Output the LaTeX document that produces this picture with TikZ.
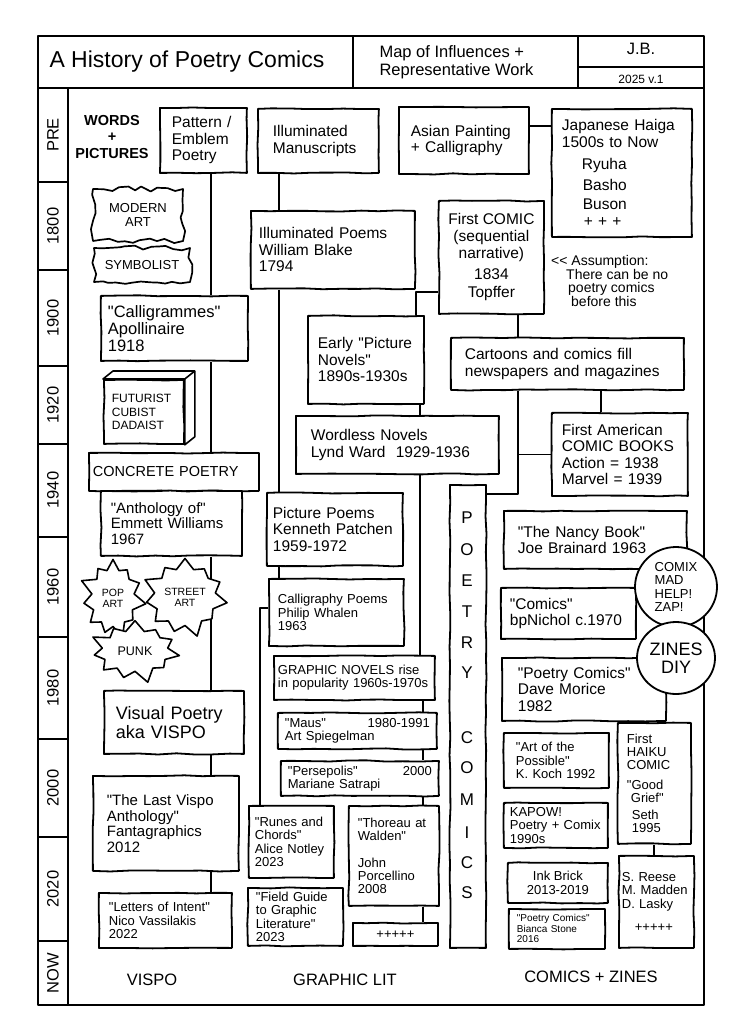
\documentclass[tikz,border=0pt]{standalone}
\usepackage{fontspec}
\setmainfont{Liberation Sans}[Ligatures=TeXOff]
\usetikzlibrary{shapes.geometric, shapes.symbols, decorations.pathmorphing, calc}

\newcommand{\fttl}{\fontsize{23}{26}\selectfont}
\newcommand{\fhead}{\fontsize{16.5}{18}\selectfont}
\newcommand{\fbig}{\fontsize{15.5}{16.5}\selectfont}
\newcommand{\fmed}{\fontsize{15}{15.5}\selectfont}
\newcommand{\fmid}{\fontsize{13}{13.3}\selectfont}
\newcommand{\fsml}{\fontsize{13}{14}\selectfont}
\newcommand{\fpop}{\fontsize{10.5}{11}\selectfont}
\newcommand{\ftny}{\fontsize{10}{10.5}\selectfont}
\newcommand{\fbold}{\fontsize{18}{18.5}\selectfont}
\newcommand{\pushright}{\hskip 0pt plus 1filll\relax}

\begin{document}
\pgfmathsetseed{7}
\begin{tikzpicture}[
        x=1pt, y=-1pt, line join=round,
        card/.style={draw, line width=1.8pt, fill=white, anchor=north west, inner sep=0pt, align=left, font=\fbig,
            decorate, decoration={random steps, segment length=18pt, amplitude=0.6pt}},
        wh/.style n args={3}{minimum width=#1pt, minimum height=#2pt,
            /utils/exec={\pgfmathsetlengthmacro\tw{#1pt-2*#3pt}}, text width=\tw},
        jag/.style={draw, line width=1.7pt, fill=white, align=center, inner sep=0pt, font=\fsml,
            decorate, decoration={random steps, segment length=8pt, amplitude=2.5pt}},
        burst/.style={starburst, draw, line width=1.6pt, fill=white, align=center, font=\fpop,
            inner xsep=4pt, inner ysep=11pt, starburst points=11, starburst point height=14pt},
        bubble/.style={ellipse, draw, line width=1.8pt, fill=white, inner sep=0pt},
        link/.style={line width=1.4pt},
        frame/.style={line width=1.3pt},
        yearlbl/.style={rotate=90, font=\fhead},
        tag/.style={font=\fhead}
    ]
    \useasboundingbox (0,0) rectangle (751,1023);

    % frame and title band
    \draw[frame] (38,36) rectangle (704,88);
    \draw[frame] (353,36) -- (353,88);
    \draw[frame] (578,36) -- (578,88);
    \draw[frame] (578,67) -- (704,67);
    \draw[frame] (38,88) rectangle (704,1005);
    \draw[frame] (68,88) -- (68,1005);
    \foreach \yy in {182,270,366,444,537,637,739,837,941}
        \draw[frame] (38,\yy) -- (68,\yy);
    \foreach \lbl/\yy in {PRE/135,1800/226,1900/318,1920/405,1940/490,1960/587,1980/688,2000/788,2020/889,NOW/973}
        \node[yearlbl] (yr-\lbl) at (53,\yy) {\lbl};

    \node[anchor=west, font=\fttl] (title) at (46,62) {A History of Poetry Comics};
    \node[anchor=west, align=left, font=\fhead] (subtitle) at (376,62) {Map of Influences +\\Representative Work};
    \node[font=\fhead] (author) at (641,49) {J.B.};
    \node[font=\fontsize{12}{12}\selectfont] (version) at (641,79) {2025 v.1};

    % vispo column
    \node[font=\bfseries\fontsize{14.5}{16.5}\selectfont, align=center] (words) at (112,137) {WORDS\\+\\PICTURES};
    \node[card, wh={87}{65}{12}] (pattern) at (159,107) {Pattern /\\Emblem\\Poetry};
    \node[jag, minimum width=90pt, minimum height=52pt] (modern) at (138,215) {MODERN\\ART};
    \node[jag, minimum width=96pt, minimum height=34pt] (symb) at (142,265) {SYMBOLIST};
    \node[card, wh={147}{65}{7}, font=\fontsize{16.5}{17}\selectfont] (callig) at (100,295) {"Calligrammes"\\Apollinaire\\1918};
    \node[card, wh={80}{64}{8}, font=\fontsize{12}{13.5}\selectfont] (futur) at (103,379) {FUTURIST\\CUBIST\\DADAIST};
    \draw[line width=1.6pt, fill=white] (futur.north west) -- ++(10,-8) -- ($(futur.north east)+(10,-8)$)
        -- ($(futur.south east)+(10,-8)$) -- (futur.south east) -- (futur.north east) -- cycle;
    \draw[line width=1.6pt] (futur.north east) -- ++(10,-8);
    \node[card, wh={170}{38}{4}, font=\fontsize{14.5}{15}\selectfont] (concrete) at (88,452) {CONCRETE POETRY};
    \node[card, wh={141}{65}{10}, font=\fmed] (antho) at (100,490) {"Anthology of"\\Emmett Williams\\1967};
    \node[card, wh={140}{63}{12}, font=\fbold] (vispo) at (103,690) {Visual Poetry\\aka VISPO};
    \node[card, wh={146}{95}{14}, font=\fmed] (lastvispo) at (92,775) {"The Last Vispo\\Anthology"\\Fantagraphics\\2012};
    \node[card, wh={133}{55}{10}, font=\fmid] (letters) at (98,892) {"Letters of Intent"\\Nico Vassilakis\\2022};

    % graphic lit column
    \node[card, wh={121}{64}{15}] (manus) at (257,108) {Illuminated\\Manuscripts};
    \node[card, wh={164}{78}{8}] (blake) at (250,210) {Illuminated Poems\\William Blake\\1794};
    \node[card, wh={116}{88}{10}] (early) at (307,315) {Early "Picture\\Novels"\\1890s-1930s};
    \node[card, wh={203}{58}{15}] (wordless) at (295,415) {Wordless Novels\\Lynd Ward\ \ 1929-1936};
    \node[card, wh={136}{73}{6}] (ppoems) at (266,492) {Picture Poems\\Kenneth Patchen\\1959-1972};
    \node[card, wh={135}{67}{9}, font=\fmid] (cpoems) at (268,578) {Calligraphy Poems\\Philip Whalen\\1963};
    \node[card, wh={161}{44}{4}, font=\fmid] (gnovels) at (273,655) {GRAPHIC NOVELS rise\\in popularity 1960s-1970s};
    \node[card, wh={159}{36}{7}, font=\fmid] (maus) at (277,712) {"Maus"\pushright 1980-1991\\Art Spiegelman};
    \node[card, wh={158}{35}{7}, font=\fmid] (perse) at (280,760) {"Persepolis"\pushright 2000\\Mariane Satrapi};
    \node[card, wh={85}{72}{6}, font=\fmid] (runes) at (248,805) {"Runes and\\Chords"\\Alice Notley\\2023};
    \node[card, wh={90}{100}{9}, font=\fmid] (thoreau) at (348,805) {"Thoreau at\\Walden"\\[13pt]John\\Porcellino\\2008};
    \node[card, wh={95}{58}{8}, font=\fmid] (fguide) at (247,887) {"Field Guide\\to Graphic\\Literature"\\2023};
    \node[card, minimum width=85pt, minimum height=23pt, align=center, font=\fmid] (more) at (352,922) {+++++};

    % poetry comics spine
    \node[card, minimum width=36pt, minimum height=463pt] (poetry) at (449,484) {};
    \foreach \ch/\yy in {P/518,O/550,E/581,T/612,R/643,Y/673,C/738,O/768,M/800,I/833,C/863,S/893}
        \node[font=\fontsize{17}{17}\selectfont] (pc-\yy) at (467,\yy) {\ch};

    % comics + zines column
    \node[card, wh={130}{67}{12}] (asian) at (398,106) {Asian Painting\\+ Calligraphy};
    \node[card, wh={140}{128}{10}] (haiga) at (551,108) {Japanese Haiga\\1500s to Now\\[6pt]\hspace*{20pt}Ryuha\\[4pt]\hspace*{21pt}Basho\\[3pt]\hspace*{21pt}Buson\\\hspace*{22pt}+ + +};
    \node[card, minimum width=105pt, minimum height=113pt, align=center] (first) at (438,200) {First COMIC\\(sequential\\[1pt]narrative)\\[4pt]1834\\[2pt]Topffer};
    \node[anchor=north west, align=left, inner sep=0pt, font=\fontsize{14}{13.8}\selectfont] (assume) at (551,255) {<{}< Assumption:\\\hspace*{15pt}There can be no\\\hspace*{17pt}poetry comics\\\hspace*{20pt}before this};
    \node[card, wh={233}{52}{14}] (cartoons) at (450,337) {Cartoons and comics fill\\newspapers and magazines};
    \node[card, wh={136}{83}{10}] (firstam) at (551,412) {First American\\COMIC BOOKS\\Action = 1938\\Marvel = 1939};
    \node[card, wh={183}{58}{14}] (nancy) at (503,510) {"The Nancy Book"\\Joe Brainard 1963};
    \node[card, wh={135}{51}{9}] (bpnichol) at (500,587) {"Comics"\\bpNichol c.1970};
    \node[card, wh={164}{63}{16}] (pcomics) at (501,657) {"Poetry Comics"\\Dave Morice\\1982};
    \node[card, wh={105}{55}{12}, font=\fmid] (artposs) at (503,732) {"Art of the\\Possible"\\K. Koch 1992};
    \node[card, wh={73}{121}{9}, font=\fmid] (haiku) at (617,722) {First\\HAIKU\\COMIC\\[6pt]"Good\\\hspace*{4pt}Grief"\\[4pt]\hspace*{5pt}Seth\\\hspace*{5pt}1995};
    \node[card, wh={104}{45}{6}, font=\fmid] (kapow) at (503,802) {KAPOW!\\Poetry + Comix\\1990s};
    \node[card, minimum width=100pt, minimum height=40pt, align=center, font=\fmid] (inkbrick) at (507,862) {Ink Brick\\2013-2019};
    \node[card, wh={96}{40}{8}, font=\ftny] (bianca) at (508,908) {"Poetry Comics"\\Bianca Stone\\2016};
    \node[card, wh={75}{92}{3}, font=\fmid] (reese) at (618,855) {S. Reese\\M. Madden\\D. Lasky\\[10pt]\hspace*{13pt}+++++};

    % connectors
    \coordinate (vspine) at (211,0);
    \draw[link] (vspine |- pattern.south) -- (vspine |- callig.north);
    \draw[link] (vspine |- callig.south) -- (vspine |- concrete.north);
    \draw[link] (vspine |- antho.south) -- (vspine |- vispo.north);
    \draw[link] (vspine |- vispo.south) -- (vspine |- lastvispo.north);
    \draw[link] (vspine |- lastvispo.south) -- (vspine |- letters.north);

    \coordinate (mspine) at (279,0);
    \draw[link] (mspine |- manus.south) -- (mspine |- blake.north);
    \draw[link] (mspine |- blake.south) -- (mspine |- ppoems.north);
    \draw[link] (mspine |- ppoems.south) -- (mspine |- cpoems.north);
    \coordinate (lspine) at (260,608);
    \draw[link] (cpoems.west |- lspine) -- (lspine) -- (lspine |- runes.north);
    \coordinate (tjoin) at (416,292);
    \draw[link] (first.west |- tjoin) -- (tjoin) -- (tjoin |- early.north);
    \coordinate (gspine) at (420,0);
    \draw[link] (gspine |- early.south) -- (gspine |- wordless.north);
    \draw[link] (gspine |- wordless.south) -- (gspine |- gnovels.north);
    \coordinate (gspineb) at (423,0);
    \draw[link] (gspineb |- gnovels.south) -- (gspineb |- maus.north);
    \draw[link] (gspineb |- maus.south) -- (gspineb |- perse.north);
    \draw[link] (gspineb |- perse.south) -- (gspineb |- thoreau.north);
    \draw[link] (gspineb |- thoreau.south) -- (gspineb |- more.north);

    \coordinate (ajoin) at (540,126);
    \draw[link] (asian.east |- ajoin) -- (haiga.west |- ajoin);
    \coordinate (cspine) at (518,0);
    \draw[link] (cspine |- first.south) -- (cspine |- cartoons.north);
    \coordinate (celbow) at (518,494);
    \draw[link] (cspine |- cartoons.south) -- (celbow) -- (poetry.east |- celbow);
    \draw[link] (cspine |- firstam.west) -- (firstam.west);
    \coordinate (fspine) at (601,0);
    \draw[link] (fspine |- cartoons.south) -- (fspine |- firstam.north);
    \coordinate (hspine) at (654,0);
    \draw[link] (hspine |- haiku.south) -- (hspine |- reese.north);

    % bursts and bubbles on top
    \node[burst] (pop) at (113,598) {POP\\ART};
    \node[burst, inner xsep=1pt] (street) at (185,597) {STREET\\ART};
    \node[burst, font=\fontsize{12.5}{13}\selectfont, inner xsep=6pt, inner ysep=10pt] (punk) at (135,651) {PUNK};
    \node[bubble, minimum width=82pt, minimum height=80pt, align=left, font=\fmid] (comix) at (676,587) {COMIX\\MAD\\HELP!\\ZAP!};
    \node[bubble, minimum width=78pt, minimum height=72pt, align=center, font=\fbold] (zines) at (676,658) {ZINES\\DIY};

    % column labels
    \node[tag] (vispolbl) at (152,980) {VISPO};
    \node[tag] (gllbl) at (345,980) {GRAPHIC LIT};
    \node[tag] (czlbl) at (591,977) {COMICS + ZINES};
\end{tikzpicture}
\end{document}
